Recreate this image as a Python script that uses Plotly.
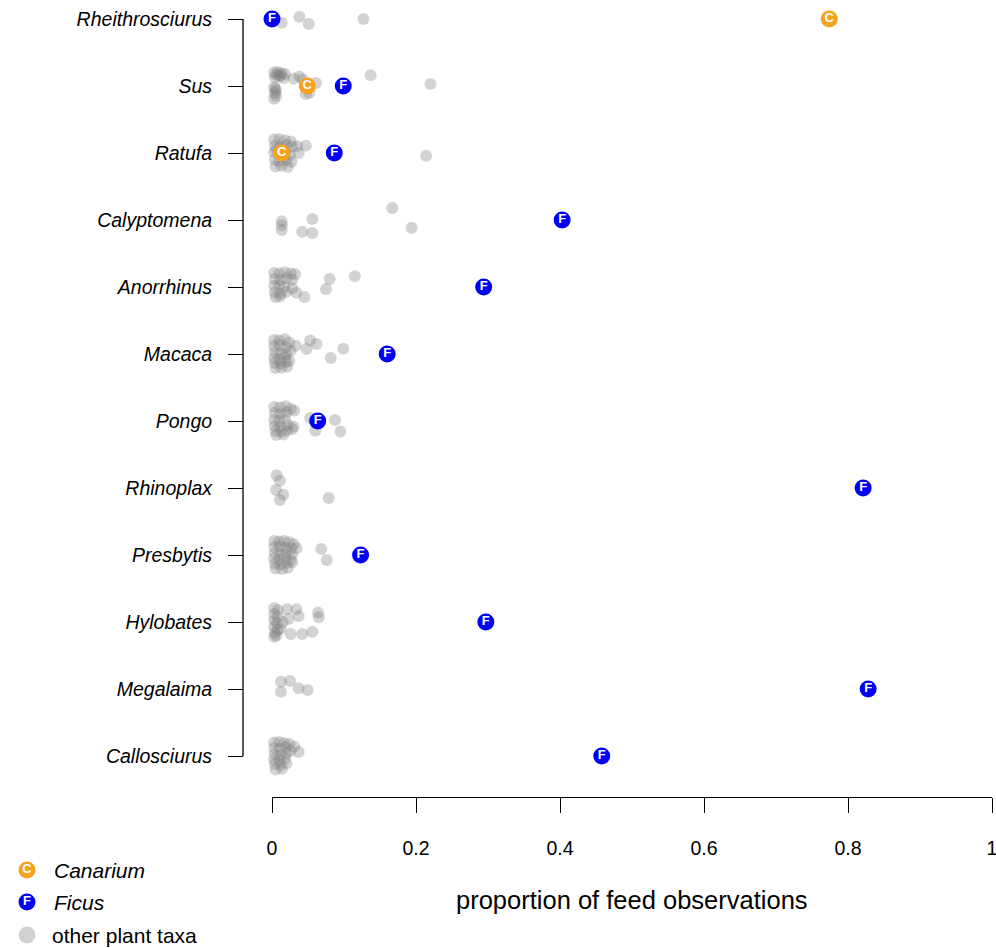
import plotly.graph_objects as go

# Frugivore genera, listed top to bottom
species = ["Rheithrosciurus", "Sus", "Ratufa", "Calyptomena", "Anorrhinus", "Macaca",
           "Pongo", "Rhinoplax", "Presbytis", "Hylobates", "Megalaima", "Callosciurus"]

# Proportion of feeding observations on Ficus and Canarium (None = not recorded)
ficus = [0.0, 0.099, 0.0865, 0.403, 0.294, 0.160, 0.0635, 0.821, 0.123, 0.297, 0.828, 0.458]
canarium = [0.774, 0.049, 0.0135, None, None, None, None, None, None, None, None, None]

# Other plant taxa, one inner list per genus (same order as `species`)
other_prop = [
    [0.0135, 0.038, 0.051, 0.127],
    [0.003, 0.008, 0.013, 0.018, 0.004, 0.010, 0.016, 0.006, 0.012,
     0.003, 0.005, 0.004, 0.006, 0.003, 0.005,
     0.038, 0.061, 0.047, 0.043, 0.137, 0.220, 0.052, 0.030],
    [0.003, 0.010, 0.018, 0.026, 0.004, 0.012, 0.020, 0.028, 0.003, 0.011, 0.019,
     0.025, 0.004, 0.010, 0.020, 0.027, 0.005, 0.013, 0.022, 0.006, 0.016,
     0.047, 0.037, 0.035, 0.214],
    [0.0135, 0.0135, 0.0135, 0.056, 0.042, 0.056, 0.167, 0.194],
    [0.003, 0.010, 0.018, 0.026, 0.032, 0.004, 0.012, 0.020, 0.028, 0.003, 0.010,
     0.017, 0.004, 0.012, 0.020, 0.005, 0.011,
     0.034, 0.045, 0.080, 0.075, 0.115, 0.028],
    [0.003, 0.010, 0.018, 0.024, 0.003, 0.011, 0.019, 0.004, 0.012, 0.020, 0.003,
     0.010, 0.018, 0.004, 0.012, 0.020, 0.005, 0.013, 0.021,
     0.033, 0.053, 0.048, 0.062, 0.099, 0.0815, 0.026, 0.024],
    [0.003, 0.011, 0.019, 0.026, 0.004, 0.012, 0.020, 0.003, 0.010, 0.018, 0.004,
     0.012, 0.022, 0.005, 0.013, 0.021, 0.028, 0.006, 0.016,
     0.031, 0.030, 0.053, 0.060, 0.0875, 0.095],
    [0.0065, 0.011, 0.0055, 0.0157, 0.011, 0.0787],
    [0.003, 0.010, 0.017, 0.024, 0.030, 0.003, 0.011, 0.019, 0.027, 0.004, 0.012,
     0.020, 0.028, 0.003, 0.010, 0.018, 0.026, 0.004, 0.012, 0.020, 0.028, 0.005,
     0.014, 0.022,
     0.034, 0.0685, 0.076],
    [0.003, 0.008, 0.003, 0.008, 0.003, 0.007, 0.003, 0.008, 0.004, 0.006, 0.003,
     0.021, 0.034, 0.037, 0.023, 0.064, 0.065, 0.026, 0.042, 0.056, 0.015, 0.012],
    [0.0125, 0.025, 0.0125, 0.037, 0.0495],
    [0.003, 0.010, 0.017, 0.024, 0.031, 0.003, 0.011, 0.019, 0.026, 0.004, 0.012,
     0.020, 0.003, 0.010, 0.018, 0.004, 0.012, 0.020, 0.005, 0.014,
     0.037],
]
# Vertical jitter of each grey point, in row units (+ is up)
other_jitter = [
    [-0.055, 0.035, -0.075, 0.0],
    [0.20, 0.21, 0.19, 0.18, 0.13, 0.14, 0.12, 0.17, 0.16,
     -0.02, -0.07, -0.11, -0.15, -0.19, -0.04,
     0.14, 0.045, -0.12, 0.10, 0.16, 0.03, -0.10, 0.11],
    [0.20, 0.21, 0.19, 0.17, 0.11, 0.09, 0.12, 0.10, 0.01, -0.02, 0.02,
     -0.03, -0.10, -0.12, -0.11, -0.13, -0.20, -0.19, -0.21, 0.05, -0.06,
     0.11, 0.0, 0.10, -0.04],
    [-0.02, -0.08, -0.15, 0.015, -0.175, -0.195, 0.18, -0.115],
    [0.21, 0.20, 0.22, 0.20, 0.19, 0.12, 0.10, 0.13, 0.11, 0.02, 0.03,
     0.0, -0.08, -0.10, -0.07, -0.15, -0.14,
     -0.085, -0.15, 0.12, -0.03, 0.16, -0.02],
    [0.21, 0.20, 0.22, 0.17, 0.12, 0.13, 0.10, 0.03, 0.01, 0.0, -0.06,
     -0.08, -0.05, -0.13, -0.14, -0.12, -0.21, -0.20, -0.19,
     0.125, 0.20, 0.075, 0.15, 0.08, -0.06, 0.05, -0.10],
    [0.21, 0.20, 0.22, 0.18, 0.12, 0.10, 0.13, 0.02, 0.0, 0.03, -0.07,
     -0.09, -0.06, -0.15, -0.16, -0.14, -0.12, -0.21, -0.20,
     0.155, -0.085, 0.045, -0.145, 0.015, -0.155],
    [0.19, 0.11, -0.03, -0.10, -0.18, -0.15],
    [0.21, 0.20, 0.21, 0.19, 0.16, 0.12, 0.13, 0.11, 0.10, 0.03, 0.02,
     0.04, 0.01, -0.05, -0.06, -0.04, -0.07, -0.13, -0.14, -0.12, -0.11, -0.20,
     -0.21, -0.19,
     0.10, 0.09, -0.075],
    [0.21, 0.18, 0.12, 0.08, 0.03, -0.02, -0.07, -0.12, -0.16, -0.20, -0.22,
     0.19, 0.19, 0.09, 0.045, 0.14, 0.07, -0.18, -0.18, -0.145, 0.0, -0.10],
    [0.11, 0.12, -0.04, 0.01, -0.015],
    [0.20, 0.21, 0.19, 0.18, 0.14, 0.12, 0.11, 0.13, 0.08, 0.03, 0.02,
     0.04, -0.05, -0.06, -0.04, -0.12, -0.13, -0.11, -0.20, -0.19,
     0.06],
]

x_ticks = [0, 0.2, 0.4, 0.6, 0.8, 1]
x_tick_labels = ["0", "0.2", "0.4", "0.6", "0.8", "1"]

W, H = 996, 948
FONT = "Liberation Sans, Arial, Helvetica, sans-serif"
BLUE = "#0000F5"
ORANGE = "#F7A11C"
GREY = "rgba(128,128,128,0.35)"

n = len(species)
row = {name: n - 1 - i for i, name in enumerate(species)}

# Vertical layout: first row centre at 19 px, last at 756 px from the top,
# with some headroom so jittered points stay inside the axis range.
TOP_PX, BOT_PX, PAD = 19, 756, 0.25
row_px = (BOT_PX - TOP_PX) / (n - 1)
y_dom = [1 - (BOT_PX + PAD * row_px) / H, 1 - (TOP_PX - PAD * row_px) / H]
y_axis_x = 243 / W

gx, gy = [], []
for name, props, jits in zip(species, other_prop, other_jitter):
    for p, j in zip(props, jits):
        gx.append(p)
        gy.append(row[name] + j)

fig = go.Figure()

# Other plant taxa (semi-transparent grey dots)
fig.add_trace(go.Scatter(
    x=gx, y=gy, mode="markers",
    marker=dict(size=12, color=GREY, line=dict(width=0)),
    cliponaxis=False, showlegend=False, hoverinfo="x",
))

# Ficus
fig.add_trace(go.Scatter(
    x=ficus, y=[row[s] for s in species],
    mode="markers+text", text=["F"] * n, textposition="middle center",
    textfont=dict(family=FONT, size=13, color="white", weight="bold"),
    marker=dict(size=17, color=BLUE, line=dict(width=0)),
    cliponaxis=False, showlegend=False,
))

# Canarium
can_x = [v for v in canarium if v is not None]
can_y = [row[s] for s, v in zip(species, canarium) if v is not None]
fig.add_trace(go.Scatter(
    x=can_x, y=can_y,
    mode="markers+text", text=["C"] * len(can_x), textposition="middle center",
    textfont=dict(family=FONT, size=13, color="white", weight="bold"),
    marker=dict(size=17, color=ORANGE, line=dict(width=0)),
    cliponaxis=False, showlegend=False,
))

# Legend, drawn in a pixel-space layer covering the whole figure
leg_y = [870, 902, 935]
fig.add_trace(go.Scatter(
    x=[27, 27], y=leg_y[:2], xaxis="x2", yaxis="y2",
    mode="markers+text", text=["C", "F"], textposition="middle center",
    textfont=dict(family=FONT, size=13, color="white", weight="bold"),
    marker=dict(size=17, color=[ORANGE, BLUE], line=dict(width=0)),
    cliponaxis=False, showlegend=False, hoverinfo="skip",
))
fig.add_trace(go.Scatter(
    x=[27], y=[leg_y[2]], xaxis="x2", yaxis="y2", mode="markers",
    marker=dict(size=17, color="rgba(205,205,205,0.9)", line=dict(width=0)),
    cliponaxis=False, showlegend=False, hoverinfo="skip",
))
leg_text = ["<i>Canarium</i>", "<i>Ficus</i>", "other plant taxa"]
leg_x = [52, 52, 50]
for t, lx, ly in zip(leg_text, leg_x, leg_y):
    fig.add_annotation(x=lx, y=ly, xref="x2", yref="y2", text=t, showarrow=False,
                       xanchor="left", yanchor="middle",
                       font=dict(family=FONT, size=21, color="black"))

# Axis title
fig.add_annotation(x=632 / W, y=1 - 900 / H, xref="paper", yref="paper",
                   text="proportion of feed observations", showarrow=False,
                   xanchor="center", yanchor="middle",
                   font=dict(family=FONT, size=25.5, color="black"))

# y-axis spine running from the first to the last category only
fig.add_shape(type="line", xref="paper", yref="y",
              x0=y_axis_x, x1=y_axis_x, y0=0, y1=n - 1,
              line=dict(color="black", width=1.3))

fig.update_layout(
    width=W, height=H,
    margin=dict(l=0, r=0, t=0, b=0),
    paper_bgcolor="white", plot_bgcolor="rgba(0,0,0,0)",
    font=dict(family=FONT, color="black"),
    xaxis=dict(
        domain=[272 / W, 992 / W], range=[0, 1],
        anchor="free", position=1 - 797 / H,
        showline=True, linecolor="black", linewidth=1.3,
        ticks="outside", ticklen=15, tickwidth=1.3, tickcolor="black",
        tickvals=x_ticks, ticktext=x_tick_labels,
        tickfont=dict(family=FONT, size=19.5, color="black"),
        ticklabelstandoff=18, ticklabeloverflow="allow",
        showgrid=False, zeroline=False, automargin=False,
    ),
    yaxis=dict(
        domain=y_dom, range=[-PAD, n - 1 + PAD],
        anchor="free", position=y_axis_x,
        showline=False,
        ticks="outside", ticklen=15, tickwidth=1.3, tickcolor="black",
        tickvals=[row[s] for s in species], ticktext=species,
        tickfont=dict(family=FONT, size=19.5, color="black", style="italic"),
        ticklabelstandoff=12,
        showgrid=False, zeroline=False, automargin=False,
    ),
    xaxis2=dict(domain=[0, 1], range=[0, W], visible=False,
                anchor="y2", fixedrange=True),
    yaxis2=dict(domain=[0, 1], range=[H, 0], visible=False,
                anchor="x2", fixedrange=True),
)

fig.write_html("out.html")
